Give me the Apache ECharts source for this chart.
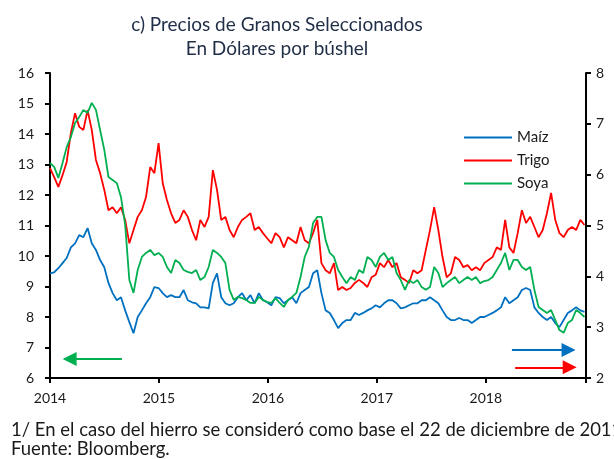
<!DOCTYPE html>
<html>
<head>
<meta charset="utf-8">
<script src="https://cdn.jsdelivr.net/npm/echarts@6/dist/echarts.min.js"></script>
<style>
  html, body { margin: 0; padding: 0; background: #fff; }
  #chart { width: 614px; height: 459px; }
</style>
</head>
<body>
<div id="chart"></div>
<script>
// Precios de granos (quincenal, ene-2014 a nov-2018)
// Maíz y Trigo: eje derecho (US$/bu), Soya: eje izquierdo

// fechas: una observación cada 14 días desde el 1 de enero de 2014 (en años decimales)
const inicio = 2014;
const pasoDias = 14;
const nObs = 129;
const fechas = [];
for (let i = 0; i < nObs; i++) fechas.push(inicio + i * pasoDias / 365.25);

const maiz = [
  4.06,4.08,4.16,4.26,4.36,4.57,4.65,4.81,4.77,4.95, 4.65,4.52,4.32,4.18,3.87,3.67,3.53,3.59,3.33,3.10, 2.88,3.20,3.33,3.47,3.59,3.79,3.77,
  3.67,3.59,3.63,3.59,3.59,3.73,3.53,3.49,3.47,3.39, 3.39,3.37,3.87,4.06,3.59,3.47,3.43,3.47,3.59,3.67, 3.53,3.63,3.47,3.67,3.53,3.49,
  3.43,3.59,3.57,3.47,3.53,3.59,3.47,3.67,3.73,3.79, 4.06,4.12,3.67,3.33,3.28,3.14,2.98,3.08,3.14,3.14, 3.28,3.24,3.28,3.33,3.37,3.43,
  3.39,3.47,3.53,3.53,3.47,3.37,3.39,3.43,3.47,3.47, 3.53,3.53,3.59,3.53,3.47,3.33,3.20,3.14,3.14,3.18, 3.14,3.14,3.08,3.14,3.20,3.20,
  3.24,3.28,3.33,3.39,3.59,3.47,3.53,3.59,3.73,3.77, 3.73,3.39,3.28,3.20,3.14,3.20,3.08,3.00,3.14,3.28, 3.33,3.39,3.33,3.30
];

const trigo = [
  6.13,5.95,5.76,5.99,6.25,6.82,7.21,6.94,6.88,7.27, 6.88,6.29,6.03,5.70,5.30,5.36,5.24,5.36,5.11,4.65, 4.91,5.17,5.30,5.56,6.15,6.03,6.62,
  5.83,5.50,5.24,5.05,5.11,5.30,5.17,4.91,4.71,5.11, 4.97,5.17,6.09,5.70,5.11,5.17,4.91,4.77,4.97,5.11, 5.17,5.24,4.91,4.97,4.85,4.75,
  4.65,4.85,4.77,4.57,4.77,4.71,4.65,4.97,4.71,4.65, 4.85,5.11,4.26,4.12,4.06,4.26,3.73,3.79,3.73,3.77, 3.87,3.93,3.87,3.79,3.98,4.03,
  4.26,4.18,4.32,4.18,4.26,3.98,3.93,3.87,4.12,4.06, 4.12,4.52,4.91,5.36,4.91,4.38,3.98,4.06,4.38,4.32, 4.18,4.22,4.12,4.18,4.12,4.26,
  4.32,4.38,4.57,4.52,5.11,4.57,4.46,4.85,5.30,5.05, 5.17,4.97,4.77,4.91,5.24,5.64,5.11,4.85,4.77,4.91, 4.97,4.91,5.11,5.01
];

const soya = [
  13.05,12.92,12.56,13.05,13.57,13.90,14.36,14.56,14.79,14.69, 15.02,14.79,14.13,13.48,12.59,12.49,12.39,11.93,11.02,9.21, 8.79,9.54,9.97,10.10,10.20,10.03,10.10,
  9.97,9.64,9.44,9.87,9.77,9.54,9.48,9.44,9.54,9.21, 9.31,9.64,10.20,10.10,9.97,9.77,8.89,8.56,8.66,8.62, 8.56,8.46,8.46,8.66,8.56,8.49,
  8.46,8.62,8.46,8.33,8.56,8.66,8.79,9.31,9.97,10.30, 11.08,11.28,11.28,10.52,10.10,9.97,9.54,9.31,9.11,9.31, 9.21,9.54,9.44,9.97,9.87,9.64,
  9.97,10.10,9.87,9.97,9.44,9.21,8.89,9.21,9.11,9.21, 8.98,8.89,8.98,9.64,9.44,8.98,9.11,9.21,9.31,9.11, 9.21,9.31,9.21,9.31,9.11,9.18,
  9.21,9.31,9.54,9.77,10.10,9.54,9.87,9.87,9.64,9.54, 9.64,8.89,8.33,8.23,8.13,8.23,7.90,7.57,7.48,7.80, 7.90,8.23,8.13,8.00
];

// flechas que indican el eje de cada serie: [x inicio, x punta, nivel]
const flechaSoya  = [2014.66, 2014.18, 6.62];
const flechaMaiz  = [2018.24, 2018.76, 2.55];
const flechaTrigo = [2018.27, 2018.77, 2.21];

const nota = '1/ En el caso del hierro se consideró como base el 22 de diciembre de 2011';
const fuente = 'Fuente: Bloomberg.';

const FONT = 'Lato, "Noto Sans", sans-serif';
const TXT = '#1a1a1a';

const pares = arr => arr.map((v, i) => [fechas[i], v]);

const flecha = (f, color) => ({
  silent: true,
  symbol: ['none', 'triangle'],
  symbolSize: 14,
  label: { show: false },
  emphasis: { disabled: true },
  lineStyle: { color: color, width: 2, type: 'solid' },
  data: [[{ coord: [f[0], f[2]] }, { coord: [f[1], f[2]] }]]
});

const ejeY = (min, max, pos, margin) => ({
  type: 'value',
  min: min, max: max, interval: 1,
  position: pos,
  axisLine: { show: true, lineStyle: { color: '#000', width: 2 } },
  axisTick: { show: true, length: 5, lineStyle: { color: '#000', width: 2 } },
  axisLabel: { margin: margin, fontSize: 14, color: TXT, fontFamily: FONT },
  splitLine: { show: false }
});

const chart = echarts.init(document.getElementById('chart'));

const option = {
  animation: false,
  backgroundColor: '#fff',
  textStyle: { fontFamily: FONT },
  title: [
    {
      text: 'c) Precios de Granos Seleccionados\nEn Dólares por búshel',
      left: 272, top: 8, textAlign: 'center',
      textStyle: { fontFamily: FONT, fontSize: 19, fontWeight: 'normal', color: '#1F2D47', lineHeight: 24 }
    },
    {
      // nota al pie (se corta en el borde derecho, como en el original)
      text: nota + '\n' + fuente,
      left: 11, bottom: 0, padding: 0,
      textStyle: { fontFamily: FONT, fontSize: 18.5, fontWeight: 'normal', color: TXT, lineHeight: 19 }
    }
  ],
  legend: {
    orient: 'vertical', left: 459, top: 125,
    icon: 'rect', itemWidth: 48, itemHeight: 2, itemGap: 8,
    textStyle: { fontFamily: FONT, fontSize: 15, color: TXT, lineHeight: 15 },
    data: ['Maíz', 'Trigo', 'Soya']
  },
  grid: { left: 50, right: 28, top: 73, bottom: 81 },
  xAxis: {
    type: 'value', min: 2014, max: 2018.92, interval: 1,
    axisLine: { lineStyle: { color: '#000', width: 2 } },
    axisTick: { length: 5, lineStyle: { color: '#000', width: 2 } },
    axisLabel: {
      margin: 13, fontSize: 14, color: TXT, fontFamily: FONT,
      formatter: v => Number.isInteger(v) ? String(v) : ''
    },
    splitLine: { show: false }
  },
  yAxis: [ejeY(6, 16, 'left', 16), ejeY(2, 8, 'right', 10)],
  series: [
    {
      name: 'Maíz', type: 'line', yAxisIndex: 1, data: pares(maiz),
      color: '#0070C0', showSymbol: false, lineStyle: { width: 1.8 },
      markLine: flecha(flechaMaiz, '#0070C0')
    },
    {
      name: 'Trigo', type: 'line', yAxisIndex: 1, data: pares(trigo),
      color: '#FF0000', showSymbol: false, lineStyle: { width: 1.8 },
      markLine: flecha(flechaTrigo, '#FF0000')
    },
    {
      name: 'Soya', type: 'line', yAxisIndex: 0, data: pares(soya),
      color: '#00B050', showSymbol: false, lineStyle: { width: 1.8 },
      markLine: flecha(flechaSoya, '#00B050')
    }
  ]
};

chart.setOption(option);
</script>
</body>
</html>
